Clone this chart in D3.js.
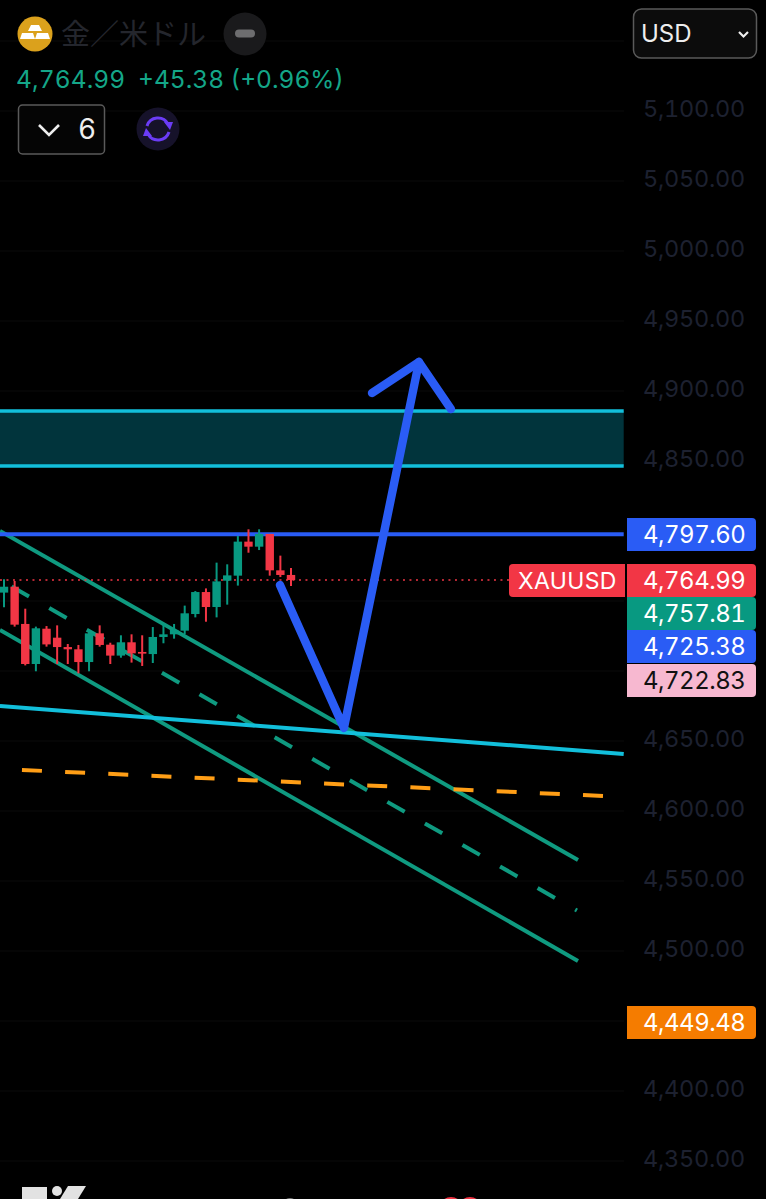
<!DOCTYPE html>
<html>
<head>
<meta charset="utf-8">
<script src="https://cdn.jsdelivr.net/npm/d3@7"></script>
<style>
html, body { margin: 0; padding: 0; background: #000; overflow: hidden; }
svg { display: block; font-family: Inter, "Noto Sans CJK JP", sans-serif; font-variant-numeric: tabular-nums; }
</style>
</head>
<body>
<div id="chart"></div>
<script>
// candles, oldest first
const opens  = [4756.0,4760.2,4733.6,4705.0,4730.2,4723.8,4717.1,4715.5,4706.4,4726.9,4718.8,4711.0,4720.5,4713.6,4712.1,4724.3,4726.2,4728.8,4740.7,4756.4,4745.7,4764.5,4768.1,4792.4,4788.8,4797.9,4771.9,4768.6];
const highs  = [4765.5,4764.3,4744.5,4731.7,4732.1,4732.6,4719.3,4718.6,4729.8,4732.6,4720.2,4725.5,4726.2,4725.5,4731.4,4733.6,4733.6,4746.7,4757.1,4759.0,4777.4,4776.2,4796.4,4801.2,4801.2,4797.9,4782.4,4773.6];
const lows   = [4745.5,4731.7,4704.0,4699.8,4717.4,4705.0,4705.0,4698.3,4699.8,4717.4,4705.0,4709.5,4706.0,4703.6,4705.7,4719.8,4723.1,4726.4,4738.3,4735.2,4738.3,4747.4,4761.0,4784.5,4786.4,4768.1,4767.1,4760.7];
const closes = [4760.2,4733.1,4705.0,4730.5,4719.0,4717.1,4715.5,4706.4,4726.9,4718.6,4711.0,4720.5,4712.6,4712.4,4724.3,4726.2,4729.3,4741.2,4756.4,4745.7,4764.0,4768.3,4792.4,4788.8,4797.9,4771.9,4768.6,4765.0];

const gridValues = [5150,5100,5050,5000,4950,4900,4850,4800,4750,4700,4650,4600,4550,4500,4450,4400,4350];
// the others sit behind the price tags in the picture
const tickValues = [5100,5050,5000,4950,4900,4850,4650,4600,4550,4500,4400,4350];

// drawings, as [bar, price]
const zonePrices = [4885.7, 4846.4];
const chartBars = [-0.38, 58.3];
const resistance = 4797.60;
const lastPrice = 4764.99;
const cyanTrend = [[-0.38,4675],[58.3,4640.7]];
const orangeTrend = [[1.69,4629.3],[56.44,4610.7]];
const channelTop = [[-0.38,4800],[54,4565]];
const channelMid = [[0.72,4760.3],[53.9,4528.9]];
const channelBottom = [[-0.38,4729.3],[54,4492.9]];
const arrowPath = [[25.96,4761.4],[31.98,4659.3],[39.04,4920.7]];
const arrowHead = [[34.62,4898.6],[39.04,4920.7],[42.05,4887.1]];

// right side price tags
const tagPrices = [4797.60, 4764.99, 4757.81, 4725.38, 4722.83, 4449.48];
const tagRows = [534.5, 580.5, 613.5, 646.5, 680.5, 1022.5];
const tagFills = ["#2a5cf5", "#f23645", "#089981", "#2a5cf5", "#f7b8d0", "#f57c00"];
const tagInks = ["#fff", "#fff", "#fff", "#fff", "#111", "#fff"];

const width = 766, height = 1199;
const green = "#089981", red = "#f23645", blue = "#2a5cf5", cyan = "#12bfdb";

const svg = d3.select("#chart").append("svg").attr("width", width).attr("height", height);

const x = d3.scaleLinear().domain([0, 27]).range([4, 291]);
const y = d3.scaleLinear().domain([5100, 4350]).range([111, 1161]);
const line = d3.line().x(d => x(d[0])).y(d => y(d[1]));
const fmt = d3.format(",.2f");

// grid + price axis
svg.append("g").selectAll("line").data(gridValues).enter().append("line")
	.attr("x1", 0).attr("x2", 624)
	.attr("y1", d => y(d)).attr("y2", d => y(d))
	.attr("stroke", "#0a0a0b").attr("stroke-width", 1);

const axis = svg.append("g").attr("transform", "translate(643,-2)")
	.call(d3.axisRight(y).tickValues(tickValues).tickFormat(fmt).tickSize(0).tickPadding(0));
axis.select(".domain").remove();
axis.selectAll("text").attr("fill", "#1d2130").attr("font-size", 23.5)
	.attr("font-family", "Inter").attr("letter-spacing", -0.25);

// zone
svg.append("rect")
	.attr("x", x(chartBars[0])).attr("width", x(chartBars[1]) - x(chartBars[0]))
	.attr("y", y(zonePrices[0])).attr("height", y(zonePrices[1]) - y(zonePrices[0]))
	.attr("fill", "#01343c");
svg.append("g").selectAll("line").data(zonePrices).enter().append("line")
	.attr("x1", x(chartBars[0])).attr("x2", x(chartBars[1]))
	.attr("y1", d => y(d)).attr("y2", d => y(d))
	.attr("stroke", cyan).attr("stroke-width", 3.6);

// trend lines
function trend(pts, color, w, dash) {
	return svg.append("path").attr("d", line(pts)).attr("fill", "none")
		.attr("stroke", color).attr("stroke-width", w)
		.attr("stroke-dasharray", dash || null);
}
trend(channelTop, "#0f9a80", 4);
trend(channelBottom, "#0f9a80", 4);
trend(channelMid, "#0f9a80", 4, "20 23.3");
trend(cyanTrend, cyan, 4);
trend(orangeTrend, "#ff9e16", 4, "20 23.2");

svg.append("line")
	.attr("x1", x(chartBars[0])).attr("x2", 510)
	.attr("y1", y(lastPrice)).attr("y2", y(lastPrice))
	.attr("stroke", red).attr("stroke-width", 1.6).attr("stroke-dasharray", "2 4.5");
svg.append("line")
	.attr("x1", x(chartBars[0])).attr("x2", x(chartBars[1]))
	.attr("y1", y(resistance)).attr("y2", y(resistance))
	.attr("stroke", blue).attr("stroke-width", 4);

// candles
const candles = svg.append("g").selectAll("g").data(opens).enter().append("g");
candles.append("line")
	.attr("x1", (d, i) => x(i)).attr("x2", (d, i) => x(i))
	.attr("y1", (d, i) => y(highs[i])).attr("y2", (d, i) => y(lows[i]))
	.attr("stroke", (d, i) => closes[i] >= d ? green : red).attr("stroke-width", 2);
candles.append("rect")
	.attr("x", (d, i) => x(i) - 4.2).attr("width", 8.4)
	.attr("y", (d, i) => y(Math.max(d, closes[i])))
	.attr("height", (d, i) => Math.max(1.5, Math.abs(y(d) - y(closes[i]))))
	.attr("fill", (d, i) => closes[i] >= d ? green : red);

// big blue arrow
[arrowPath, arrowHead].forEach(pts => {
	svg.append("path").attr("d", line(pts)).attr("fill", "none")
		.attr("stroke", blue).attr("stroke-width", 8.4)
		.attr("stroke-linecap", "round").attr("stroke-linejoin", "round");
});

// price tags
const tags = svg.append("g").selectAll("g").data(tagPrices).enter().append("g");
tags.append("path")
	.attr("d", (d, i) => {
		const t = tagRows[i] - 16.5, b = tagRows[i] + 16.5;
		return `M627,${t}H752Q756,${t} 756,${t + 4}V${b - 4}Q756,${b} 752,${b}H627Z`;
	})
	.attr("fill", (d, i) => tagFills[i]);
tags.append("text")
	.attr("x", 643).attr("y", (d, i) => tagRows[i]).attr("dy", "0.36em")
	.attr("font-size", 24).attr("letter-spacing", -0.5)
	.attr("fill", (d, i) => tagInks[i])
	.text(d => fmt(d));

svg.append("path")
	.attr("d", "M513,564H625V597H513Q509,597 509,593V568Q509,564 513,564Z")
	.attr("fill", red);
svg.append("text").attr("x", 518).attr("y", 581).attr("dy", "0.36em")
	.attr("font-size", 23).attr("letter-spacing", 0.35).attr("fill", "#fff").text("XAUUSD");

// header
const head = svg.append("g");
head.append("circle").attr("cx", 35).attr("cy", 34).attr("r", 17.5).attr("fill", "#dba11c");
head.append("path").attr("d", "M31,25H39L42,31H28ZM22,33H33L35,39H20ZM37,33H48L50,39H35Z").attr("fill", "#fff");
head.append("text").attr("x", 61).attr("y", 45).attr("font-size", 29)
	.attr("font-family", "'Noto Sans CJK JP'").attr("fill", "#24262d").text("金／米ドル");
head.append("circle").attr("cx", 245).attr("cy", 34).attr("r", 21.5).attr("fill", "#1a1a1c");
head.append("rect").attr("x", 235).attr("y", 29.5).attr("width", 20).attr("height", 8).attr("rx", 4).attr("fill", "#6d6d6f");

head.append("text").attr("x", 16).attr("y", 88).attr("font-size", 24.5).attr("letter-spacing", 0.1).attr("fill", "#14a688").text("4,764.99");
head.append("text").attr("x", 138).attr("y", 88).attr("font-size", 24.5).attr("fill", "#14a688").text("+45.38 (+0.96%)");

head.append("rect").attr("x", 18.5).attr("y", 105).attr("width", 86).attr("height", 49).attr("rx", 4)
	.attr("fill", "#050505").attr("stroke", "#5a5a5a").attr("stroke-width", 1.5);
head.append("path").attr("d", "M39,125L49,135L59,125").attr("fill", "none").attr("stroke", "#eee").attr("stroke-width", 2.6);
head.append("text").attr("x", 78).attr("y", 139).attr("font-size", 28).attr("fill", "#eee").text("6");

head.append("circle").attr("cx", 158).attr("cy", 129).attr("r", 21.5).attr("fill", "#16122a");
head.append("path").attr("d", "M147,126A11.5,11.5 0 0 1 168,124M169,132A11.5,11.5 0 0 1 148,134")
	.attr("fill", "none").attr("stroke", "#6b3cf5").attr("stroke-width", 3);
head.append("path").attr("d", "M173,122L164,122L170,130ZM143,136L152,136L146,128Z").attr("fill", "#6b3cf5");

head.append("rect").attr("x", 633.5).attr("y", 9).attr("width", 123).attr("height", 49).attr("rx", 8)
	.attr("fill", "#0c0c0c").attr("stroke", "#5a5a5a").attr("stroke-width", 1.5);
head.append("text").attr("x", 641).attr("y", 42).attr("font-size", 24).attr("fill", "#eee").text("USD");
head.append("path").attr("d", "M739,32L743.5,36.5L748,32").attr("fill", "none").attr("stroke", "#eee").attr("stroke-width", 2.2);

// cut off bits of the screenshot at the bottom edge
const foot = svg.append("g");
foot.append("path").attr("d", "M22,1187H47V1199H22Z").attr("fill", "#e2e2e2");
foot.append("circle").attr("cx", 57).attr("cy", 1191).attr("r", 5).attr("fill", "#e2e2e2");
foot.append("path").attr("d", "M68,1186H86L78,1199H60Z").attr("fill", "#e2e2e2");
foot.append("circle").attr("cx", 290).attr("cy", 1206).attr("r", 8).attr("fill", "#777");
foot.append("circle").attr("cx", 451).attr("cy", 1209).attr("r", 12).attr("fill", "#f23645");
foot.append("circle").attr("cx", 470).attr("cy", 1209).attr("r", 12).attr("fill", "#f23645");
</script>
</body>
</html>
